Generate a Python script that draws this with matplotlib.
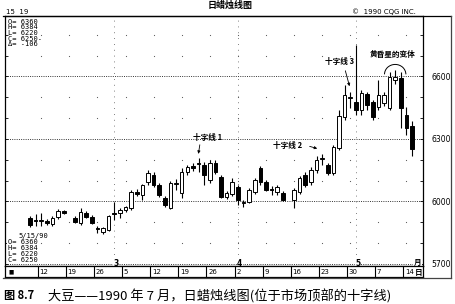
import numpy as np
import matplotlib.pyplot as plt
from matplotlib.patches import Arc
from matplotlib.lines import Line2D

plt.rcParams['font.family'] = ['DejaVu Sans', 'Noto Sans CJK SC']

# daily soybean candles, Feb 8 - May 15 1990 (nan = exchange holiday)
nan = np.nan
opens = [5921, 5911, 5906, 5906, 5892, 5926, 5954, nan, 5921, 5897,
         5945, 5926, 5873, 5854, 5863, 5945, 5945, 5959, 5969, 6046,
         6031, 6094, 6127, 6079, 6017, 5969, 6084, 6041, 6142, 6170,
         6180, 6175, 6103, 6185, 6118, 6022, 6036, 6070, 5993, 5998,
         6046, 6161, 6094, 6058, 6046, 6041, nan, 6007, 6046, 6127,
         6094, 6151, 6204, 6175, 6137, 6257, 6406, 6495, 6478, 6439,
         6516, 6478, 6454, 6473, 6449, 6583, 6593, 6415, 6360]
highs = [5930, 5940, 5945, 5916, 5930, 5964, 5959, nan, 5930, 5969,
         5955, 5935, 5883, 5878, 5935, 5998, 5969, 5980, 6055, 6060,
         6085, 6151, 6140, 6089, 6027, 6099, 6108, 6161, 6175, 6185,
         6209, 6190, 6199, 6199, 6127, 6050, 6113, 6079, 6007, 6065,
         6113, 6170, 6103, 6075, 6079, 6050, nan, 6065, 6122, 6142,
         6166, 6218, 6228, 6185, 6271, 6439, 6559, 6526, 6750, 6535,
         6526, 6487, 6583, 6526, 6622, 6631, 6622, 6454, 6384]
lows = [5878, 5883, 5883, 5887, 5883, 5916, 5940, nan, 5897, 5887,
        5920, 5890, 5849, 5845, 5858, 5911, 5921, 5950, 5959, 6026,
        6005, 6080, 6070, 6022, 5974, 5964, 6055, 6017, 6127, 6146,
        6142, 6079, 6089, 6132, 6017, 6012, 6026, 5983, 5974, 5993,
        6036, 6079, 6050, 6031, 6031, 6000, nan, 5969, 6036, 6070,
        6079, 6137, 6175, 6127, 6127, 6247, 6391, 6449, 6415, 6415,
        6439, 6391, 6439, 6458, 6439, 6564, 6353, 6320, 6220]
closes = [5887, 5906, 5911, 5897, 5921, 5954, 5945, nan, 5902, 5950,
          5926, 5897, 5870, 5873, 5930, 5940, 5959, 5974, 6046, 6036,
          6079, 6137, 6079, 6031, 5983, 6089, 6087, 6142, 6166, 6161,
          6182, 6127, 6185, 6142, 6022, 6041, 6092, 6007, 5998, 6055,
          6103, 6094, 6055, 6055, 6070, 6007, nan, 6055, 6113, 6079,
          6151, 6199, 6206, 6137, 6262, 6410, 6511, 6497, 6439, 6521,
          6463, 6406, 6511, 6511, 6598, 6598, 6449, 6353, 6250]

week_labels = ['12', '19', '26', '5', '12', '19', '26', '2', '9', '16', '23', '30', '7', '14']
week_slots = [2, 7, 12, 17, 22, 27, 32, 37, 42, 47, 52, 57, 62, 67]
month_labels = ['3', '4', '5']
month_slots = [15, 37, 58]
price_ticks = [5700, 6000, 6300, 6600]
dot_levels = [5800, 5900, 6100, 6200, 6400, 6500, 6700, 6800]

W, H = 455, 304
fig = plt.figure(figsize=(4.55, 3.04), dpi=100)


def fx(px):
    return px / W


def fy(py):
    return 1 - py / H


ax = fig.add_axes([fx(5), fy(266), fx(418), (266 - 16) / H])
ax.set_xlim(-4.45, 69.95)
ax.set_ylim(5690, 6890)

# grid: dotted price lines, month separators, sparse dots
for p in price_ticks:
    ax.axhline(p, color='#333333', lw=0.7, ls=(0, (1, 1.3)), zorder=1)
for m in month_slots:
    ax.axvline(m, color='#555555', lw=0.6, ls=(0, (1, 6)), zorder=1)
gx, gy = np.meshgrid(week_slots, dot_levels)
ax.scatter(gx.ravel(), gy.ravel(), s=0.7, color='#555555', lw=0, zorder=1)

# candles
x = np.arange(len(opens))
o = np.array(opens)
h = np.array(highs)
l = np.array(lows)
c = np.array(closes)
ok = ~np.isnan(o)
ax.vlines(x[ok], l[ok], h[ok], color='black', lw=0.8, zorder=2)
up = ok & (c >= o)
dn = ok & (c < o)
body = np.maximum(np.abs(c - o), 4)
ax.bar(x[up], body[up], bottom=np.minimum(o, c)[up], width=0.64,
       color='white', edgecolor='black', lw=0.7, zorder=3)
ax.bar(x[dn], body[dn], bottom=np.minimum(o, c)[dn], width=0.64,
       color='black', edgecolor='black', lw=0.7, zorder=3)

ax.set_xticks([])
ax.set_yticks(price_ticks)
ax.set_yticks(np.arange(5700, 6900, 100), minor=True)
ax.yaxis.tick_right()
ax.tick_params(axis='y', which='both', direction='in', left=True, right=True,
               length=2, width=0.6, labelsize=5.5, pad=6, labelleft=False,
               labelright=True)
for s in ax.spines.values():
    s.set_linewidth(0.9)

# month numbers on the 5700 line
for m, lab in zip(month_slots, month_labels):
    ax.text(m + 0.3, 5700, lab, fontsize=5.5, ha='center', va='center', weight='bold',
            bbox=dict(facecolor='white', edgecolor='none', pad=0.3), zorder=4)
ax.text(69.0, 5707, '月', fontsize=5.5, ha='center', va='center',
        family=['Noto Sans CJK SC'], weight='bold',
        bbox=dict(facecolor='white', edgecolor='none', pad=0.3), zorder=4)

# info blocks
mono = ['DejaVu Sans Mono', 'DejaVu Sans']
info_top = ['O= 6360', 'H= 6384', 'L= 6220', 'C= 6250-', 'Δ= -106']
for k, t in enumerate(info_top):
    ax.text(-4.0, 6862 - k * 27, t, fontsize=5, va='center', ha='left', family=mono)
info_bot = ['5/15/90', 'O= 6360', 'H= 6384', 'L= 6220', 'C= 6250']
for k, t in enumerate(info_bot):
    ax.text(-4.0 + (2.0 if k == 0 else 0), 5833 - k * 28, t, fontsize=5,
            va='center', ha='left', family=mono,
            bbox=dict(facecolor='white', edgecolor='none', pad=0.2), zorder=4)

# annotations
cjk = dict(family=['Noto Sans CJK SC', 'DejaVu Sans'], weight='bold', fontsize=5.5)
arrow = dict(arrowstyle='-|>', lw=0.6, color='black', mutation_scale=4)
ax.text(29.0, 6305, '十字线 1', ha='left', va='center', **cjk)
ax.annotate('', xy=(29.9, 6215), xytext=(30.3, 6285), arrowprops=arrow)
ax.text(43.3, 6270, '十字线 2', ha='left', va='center', **cjk)
ax.annotate('', xy=(51.6, 6250), xytext=(49.3, 6268), arrowprops=arrow)
ax.text(52.5, 6670, '十字线 3', ha='left', va='center', **cjk)
ax.annotate('', xy=(57.0, 6540), xytext=(56.0, 6640), arrowprops=arrow)
ax.text(60.5, 6705, '黄昏星的变体', ha='left', va='center', **cjk)
ax.add_patch(Arc((65, 6610), 3.8, 95, theta1=0, theta2=180, lw=0.7, color='black'))

# date row
axd = fig.add_axes([fx(5), fy(277), fx(418), 11 / H])
axd.set_xlim(ax.get_xlim())
axd.set_ylim(0, 1)
axd.set_xticks([])
axd.set_yticks([])
for s in axd.spines.values():
    s.set_linewidth(0.9)
for ws, lab in zip(week_slots, week_labels):
    axd.axvline(ws - 0.6, color='black', lw=0.8)
    axd.text(ws - 0.3, 0.45, lab, fontsize=5, ha='left', va='center')
axd.text(-3.9, 0.45, '■', fontsize=4, ha='left', va='center')
axd.text(69.1, 0.45, '日', fontsize=5.5, ha='center', va='center',
         family=['Noto Sans CJK SC'], weight='bold')

# outer frame and header
fig.add_artist(Line2D([fx(3), fx(451)], [fy(16), fy(16)], lw=0.9, color='black'))
fig.add_artist(Line2D([fx(451), fx(451)], [fy(16), fy(278)], lw=0.9, color='#444444'))
fig.add_artist(Line2D([fx(3), fx(451)], [fy(278), fy(278)], lw=0.9, color='#444444'))
fig.text(fx(6), fy(12), '15  19', fontsize=5, ha='left', va='center')
fig.text(fx(352), fy(12), '©  1990 CQG INC.', fontsize=5, ha='left', va='center')
fig.text(fx(230), fy(5), '日蜡烛线图', fontsize=6.5, ha='center', va='center',
         family=['Noto Sans CJK SC'], weight='bold')
fig.text(fx(4), fy(296), '图 8.7', fontsize=8, ha='left', va='center',
         family=['Noto Sans CJK SC', 'DejaVu Sans'], weight='bold')
fig.text(fx(48), fy(296), '大豆——1990 年 7 月，日蜡烛线图(位于市场顶部的十字线)',
         fontsize=9.5, ha='left', va='center', family=['Noto Sans CJK SC', 'DejaVu Sans'])

fig.savefig('out.png', dpi=100)
